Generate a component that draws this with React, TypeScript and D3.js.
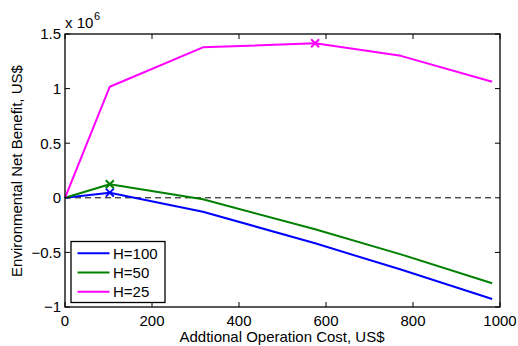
import React from "react";
import * as d3 from "d3";

const costs = [0, 103, 317, 575, 772, 982];
const h100 = [0, 0.047, -0.127, -0.417, -0.657, -0.927];
const h50 = [0, 0.124, -0.014, -0.288, -0.518, -0.783];
const h25 = [0, 1.017, 1.378, 1.415, 1.3, 1.063];
const seriesNames = ["H=100", "H=50", "H=25"];
const seriesColors = ["#0000ff", "#008000", "#ff00ff"];
const markerIndex = [1, 1, 3];
const xTicks = [0, 200, 400, 600, 800, 1000];
const yTicks = [-1, -0.5, 0, 0.5, 1, 1.5];
const yTickLabels = ["\u22121", "\u22120.5", "0", "0.5", "1", "1.5"];

const W = 518, H = 346;
const L = 65, R = 500, T = 34, B = 307;
const FONT = "'Liberation Sans', Arial, Helvetica, sans-serif";

export default function App() {
  const x = d3.scaleLinear().domain([0, 1000]).range([L, R]);
  const y = d3.scaleLinear().domain([-1, 1.5]).range([B, T]);
  const allSeries = [h100, h50, h25];
  const line = d3.line<number>().x((_, i) => x(costs[i])).y((d) => y(d));
  const tl = 5;
  return (
    <div style={{ position: "fixed", left: 0, top: 0 }}>
      <svg width={W} height={H} style={{ display: "block", background: "#fff" }} fontFamily={FONT}>
        <rect x={0} y={0} width={W} height={H} fill="#fff" />
        {/* zero line */}
        <line x1={x(0)} x2={x(costs[costs.length - 1])} y1={y(0)} y2={y(0)} stroke="#000" strokeWidth={1} strokeDasharray="6,4" />
        {allSeries.map((s, k) => (
          <path key={k} d={line(s) || ""} fill="none" stroke={seriesColors[k]} strokeWidth={2} strokeLinejoin="round" />
        ))}
        {allSeries.map((s, k) => {
          const cx = x(costs[markerIndex[k]]);
          const cy = y(s[markerIndex[k]]);
          const r = 4;
          return (
            <g key={"m" + k} stroke={seriesColors[k]} strokeWidth={2}>
              <line x1={cx - r} y1={cy - r} x2={cx + r} y2={cy + r} />
              <line x1={cx - r} y1={cy + r} x2={cx + r} y2={cy - r} />
            </g>
          );
        })}
        {/* box */}
        <rect x={L} y={T} width={R - L} height={B - T} fill="none" stroke="#000" strokeWidth={1.3} />
        {xTicks.map((t) => (
          <g key={"xt" + t}>
            <line x1={x(t)} x2={x(t)} y1={B} y2={B - tl} stroke="#000" />
            <line x1={x(t)} x2={x(t)} y1={T} y2={T + tl} stroke="#000" />
            <text x={x(t)} y={326} fontSize={15} textAnchor="middle">{t}</text>
          </g>
        ))}
        {yTicks.map((t, i) => (
          <g key={"yt" + t}>
            <line x1={L} x2={L + tl} y1={y(t)} y2={y(t)} stroke="#000" />
            <line x1={R} x2={R - tl} y1={y(t)} y2={y(t)} stroke="#000" />
            <text x={61} y={y(t) + 5.3} fontSize={15} textAnchor="end">{yTickLabels[i]}</text>
          </g>
        ))}
        <text x={65} y={28} fontSize={15}>x 10</text>
        <text x={94} y={20} fontSize={11}>6</text>
        <text x={282} y={342} fontSize={15} textAnchor="middle">Addtional Operation Cost, US$</text>
        <text transform={`translate(22,171) rotate(-90)`} fontSize={15} textAnchor="middle">Environmental Net Benefit, US$</text>
        {/* legend */}
        <rect x={71} y={241.5} width={94} height={61} fill="#fff" stroke="#000" strokeWidth={1.3} />
        {seriesNames.map((n, k) => {
          const ly = 253.3 + k * 19.2;
          return (
            <g key={"lg" + k}>
              <line x1={77.5} x2={109.5} y1={ly} y2={ly} stroke={seriesColors[k]} strokeWidth={2} />
              <text x={113} y={ly + 5.5} fontSize={15}>{n}</text>
            </g>
          );
        })}
      </svg>
    </div>
  );
}
